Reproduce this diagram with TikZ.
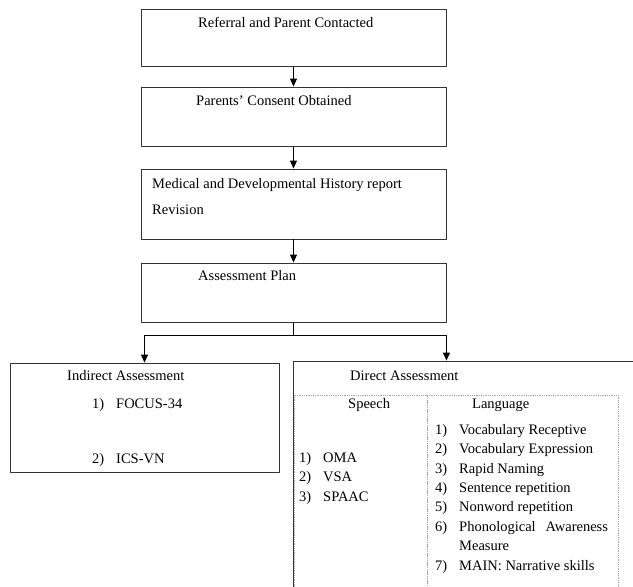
\documentclass[tikz,border=0pt]{standalone}
\usepackage{fontspec}
\setmainfont{Liberation Serif}
\usetikzlibrary{arrows.meta}
\tikzset{
  stepbox/.style={draw=black!80, line width=0.9pt, minimum width=305pt, inner sep=0pt},
  sidebox/.style={draw=black!80, line width=0.9pt, inner sep=0pt},
  colbox/.style={draw=gray!70, densely dotted, line width=0.8pt, inner sep=0pt},
  txt/.style={anchor=base west, inner sep=0pt},
  lst/.style={txt, align=left, font=\fontsize{14.5}{19.4}\selectfont}
}
\newcommand{\nitem}[2]{\makebox[24pt][l]{#1)}#2}
\begin{document}
\begin{tikzpicture}[x=1pt,y=-1pt,>={Triangle[length=8pt,width=7pt]},line join=round,font=\fontsize{14.5}{17}\selectfont]
			\useasboundingbox (0,0) rectangle (633,587);
			\clip (0,0) rectangle (633,587);
			% boxes
			\node[stepbox, minimum height=57pt] (referral) at (293.5,37.5) {};
			\node[stepbox, minimum height=59pt] (consent) at (293.5,116.5) {};
			\node[stepbox, minimum height=70pt] (history) at (293.5,204) {};
			\node[stepbox, minimum height=59pt] (plan) at (293.5,292.5) {};
			\node[sidebox, minimum width=269pt, minimum height=109pt] (indirect) at (144.5,417.5) {};
			\node[sidebox, minimum width=350pt, minimum height=250pt] (direct) at (468,486) {};
			\node[colbox, minimum width=133pt, minimum height=220pt] (speech) at (360.5,505) {};
			\node[colbox, minimum width=191pt, minimum height=220pt] (language) at (522.5,505) {};
			% texts
			\node[txt] (referraltext) at (198,27) {Referral and Parent Contacted};
			\node[txt] (consenttext) at (196,105) {Parents’ Consent Obtained};
			\node[txt] (historytext) at (152,188) {Medical and Developmental History report};
			\node[txt] (revisiontext) at (152,214) {Revision};
			\node[txt] (plantext) at (198,280) {Assessment Plan};
			\node[txt] (indirecttext) at (67,380) {Indirect Assessment};
			\node[txt] (focus) at (92,408) {\nitem{1}{FOCUS-34}};
			\node[txt] (ics) at (92,463) {\nitem{2}{ICS-VN}};
			\node[txt] (directtext) at (350,380) {Direct Assessment};
			\node[txt] (speechtext) at (348,408) {Speech};
			\node[txt] (languagetext) at (472,408) {Language};
			% lists, placed by the baseline of their last line
			\node[lst] (speechlist) at (299,501) {\nitem{1}{OMA}\\ \nitem{2}{VSA}\\ \nitem{3}{SPAAC}};
			\node[lst] (languagelist) at (435,570) {\nitem{1}{Vocabulary Receptive}\\ \nitem{2}{Vocabulary Expression}\\
				\nitem{3}{Rapid Naming}\\ \nitem{4}{Sentence repetition}\\ \nitem{5}{Nonword repetition}\\
				\nitem{6}{Phonological\hspace{10pt}Awareness}\\ \hspace*{24pt}Measure\\ \nitem{7}{MAIN: Narrative skills}};
			% connectors
			\draw [->, line width=0.9pt] (referral) -- (consent);
			\draw [->, line width=0.9pt] (consent) -- (history);
			\draw [->, line width=0.9pt] (history) -- (plan);
			\draw [line width=0.9pt] (plan.south) -- ++(0,13) coordinate (split);
			\draw [->, line width=0.9pt] (split) -| (indirect.north);
			\draw [->, line width=0.9pt] (split) -| (direct.north -| plan.east);
		\end{tikzpicture}
\end{document}
